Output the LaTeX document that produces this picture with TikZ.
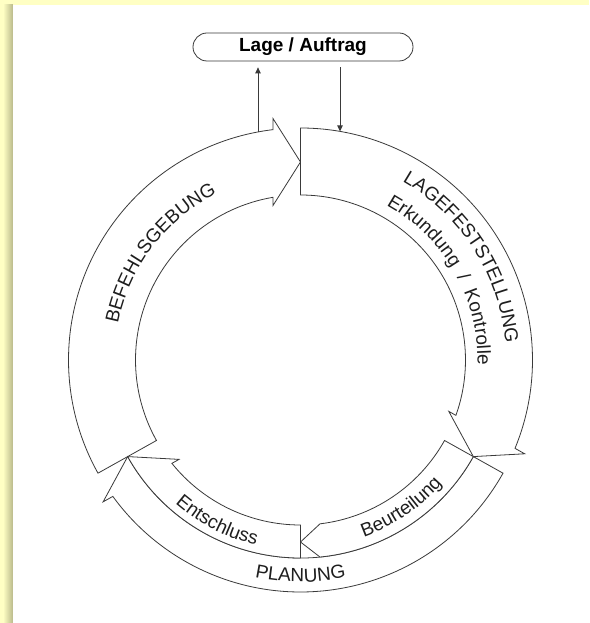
\documentclass[tikz,border=0pt]{standalone}
\usepackage{fontspec}
\setmainfont{Liberation Sans}
\usetikzlibrary{decorations.text,arrows.meta}
\definecolor{bgyellow}{HTML}{FFFFC4}
\definecolor{shadeol}{HTML}{B9B98A}
\definecolor{ln}{HTML}{3A3A3A}
\definecolor{txt}{HTML}{1E1E1E}
\newcommand\rfnt{\fontsize{19}{22}\selectfont}
\tikzset{
  band/.style={draw=ln, line width=0.8pt, fill=white, line join=miter},
  ringtext/.style={decorate, decoration={text along path, text align=center, text color=txt, text={|\rfnt|#1}}},
  flow/.style={draw=ln, line width=0.8pt, -{Triangle[length=6pt,width=5.5pt]}},
}
\begin{document}
\begin{tikzpicture}[x=1pt,y=1pt]
\useasboundingbox (-300.5,-263) rectangle (288.5,360);
\fill[bgyellow] (-300.5,-263) rectangle (288.5,360);
\shade[left color=bgyellow, right color=shadeol] (-297.5,-263) rectangle (-287.5,355);
\fill[white] (-287.5,-263) rectangle (288.5,355);

% BEFEHLSGEBUNG
\draw[band] (209.2:165pt) -- (209.2:232pt) arc[start angle=209.2, end angle=96.81, radius=232pt]
  -- (96.5:243.06pt) -- (90:198pt) -- (100.09:156.93pt) -- (99.59:165pt)
  arc[start angle=99.59, end angle=209.2, radius=165pt] -- cycle;
% LAGEFESTSTELLUNG
\draw[band] (90:165pt) -- (90:232pt) arc[start angle=90, end angle=-22.39, radius=232pt]
  -- (-22.7:243.06pt) -- (-29.2:198pt) -- (-19.11:156.93pt) -- (-19.61:165pt)
  arc[start angle=-19.61, end angle=90, radius=165pt] -- cycle;
% PLANUNG outer lane
\draw[band] (-29.2:198pt) -- (-29.2:232pt) arc[start angle=-29.2, end angle=-143.99, radius=232pt]
  -- (-144.3:243.06pt) -- (-150.8:198pt)
  arc[start angle=-150.8, end angle=-29.2, radius=198pt] -- cycle;
% Beurteilung
\draw[band] (-29.2:165pt) -- (-29.2:198pt) arc[start angle=-29.2, end angle=-84.35, radius=198pt]
  -- (-90:182pt) -- (-83.21:165pt)
  arc[start angle=-83.21, end angle=-29.2, radius=165pt] -- cycle;
% Entschluss
\draw[band] (-90:165pt) -- (-90:198pt) arc[start angle=-90, end angle=-150.8, radius=198pt]
  -- (-140.71:156.93pt) -- (-141.21:165pt)
  arc[start angle=-141.21, end angle=-90, radius=165pt] -- cycle;

% ring texts
\path[ringtext={BEFEHLSGEBUNG}] (182.75:186pt) arc[start angle=182.75, end angle=102.75, radius=186pt];
\path[ringtext={LAGEFESTSTELLUNG}] (72.45:205.5pt) arc[start angle=72.45, end angle=-7.55, radius=205.5pt];
\path[ringtext={Erkundung{\ \ }/{\ \ }Kontrolle}] (69.75:177pt) arc[start angle=69.75, end angle=-10.25, radius=177pt];
\path[ringtext={PLANUNG}] (-115:222pt) arc[start angle=-115, end angle=-65, radius=222pt];
\path[ringtext={Entschluss}] (-142.3:190.5pt) arc[start angle=-142.3, end angle=-92.3, radius=190.5pt];
\path[ringtext={Beurteilung}] (-80.7:188pt) arc[start angle=-80.7, end angle=-30.7, radius=188pt];

% Lage / Auftrag
\node[draw=ln, line width=0.8pt, rounded corners=14pt, minimum width=220pt, minimum height=28pt,
      inner sep=0pt, font=\bfseries\rfnt, text=black] (lage) at (2.5,313) {Lage / Auftrag};
\coordinate (befout) at (-42.5,228.07);
\coordinate (lagein) at (39.5,228.6);
\draw[flow, shorten >=6pt] (befout) -- (befout |- lage.south);
\draw[flow, shorten <=6pt] (lagein |- lage.south) -- (lagein);
\end{tikzpicture}
\end{document}
